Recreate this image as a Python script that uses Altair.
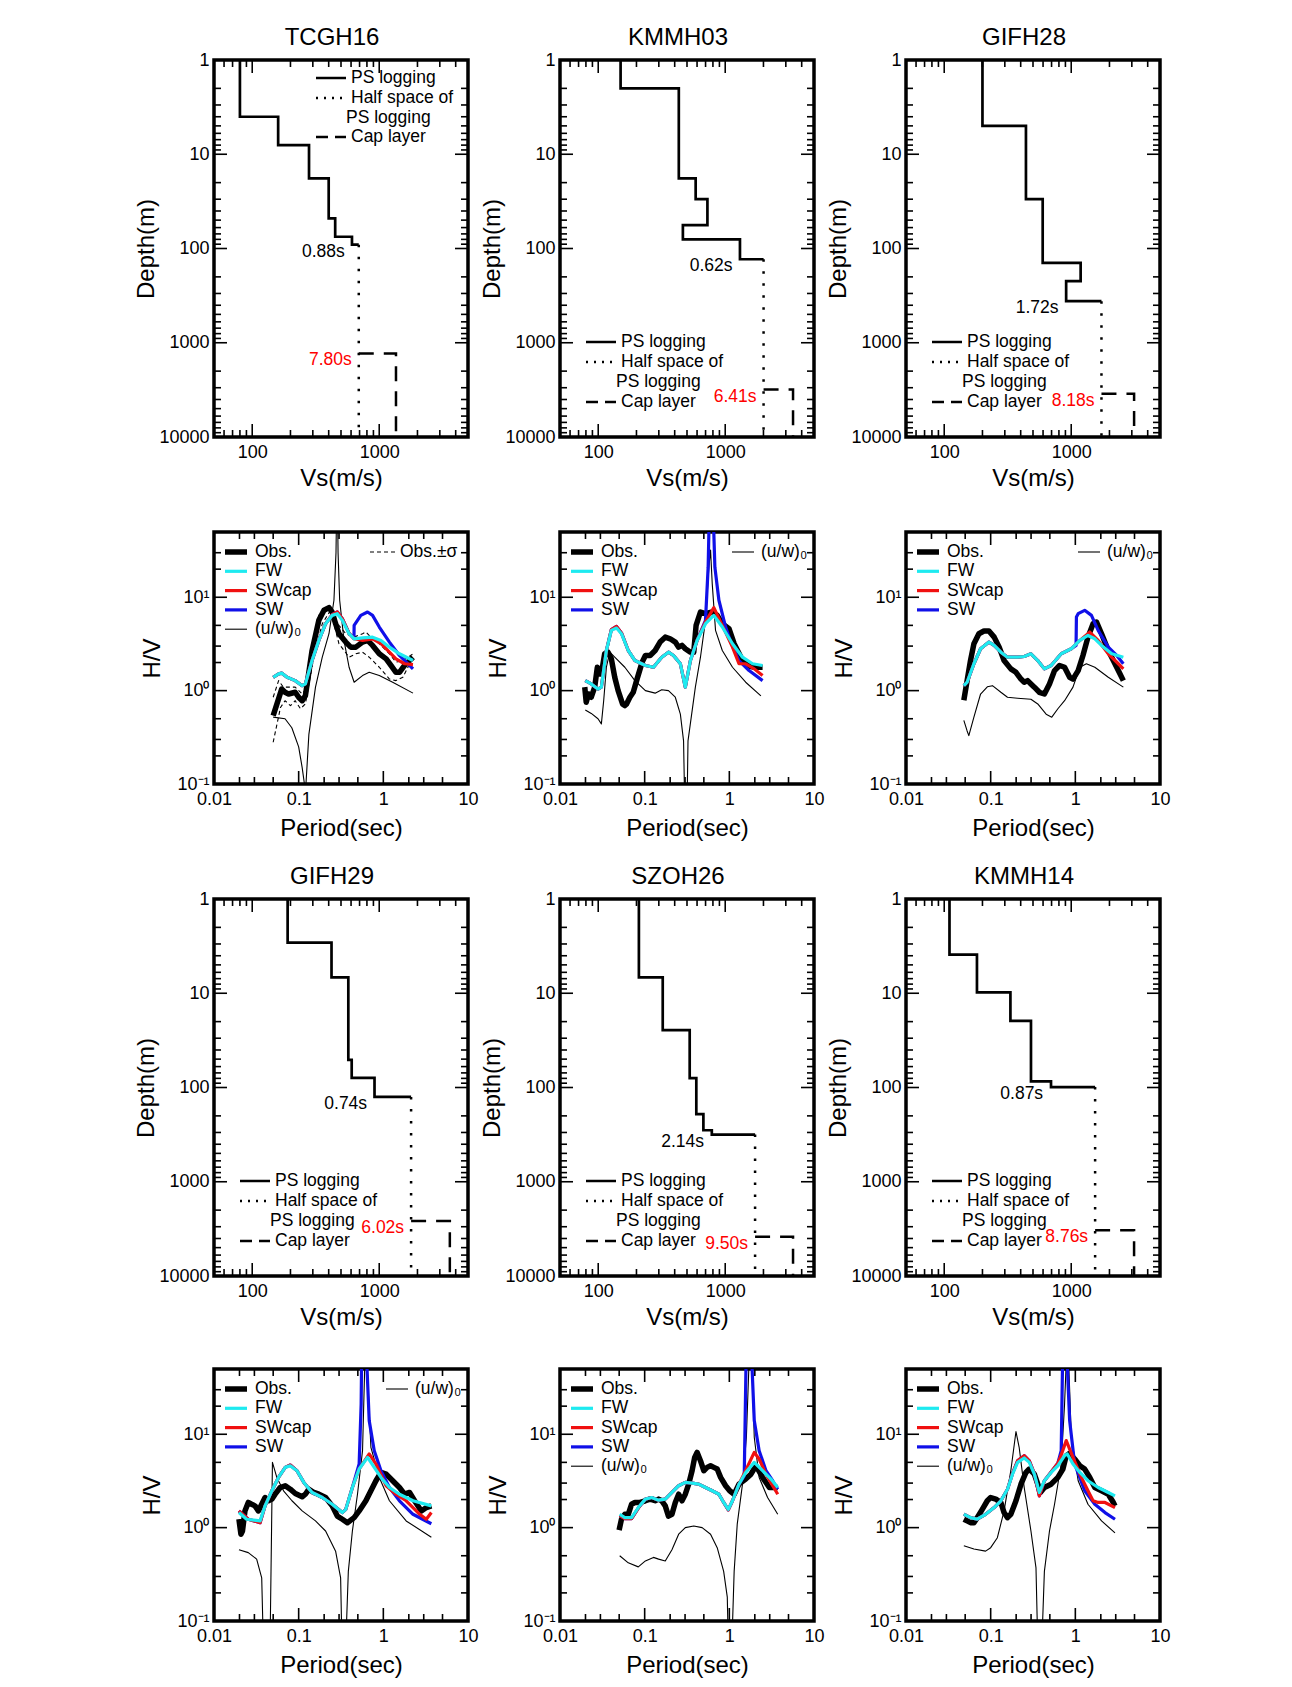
import altair as alt
import pandas as pd

FONT = "Liberation Sans"
CYAN = "#1EEAF0"
RED = "#F01010"
BLUE = "#1010E8"

# ---------------- Vs profiles (PS logging): layer Vs (m/s) and layer top depth (m)
TCGH16_VS = [80, 160, 280, 400, 450, 610]
TCGH16_TOP = [1, 4, 8, 18, 48, 75]
KMMH03_VS = [150, 431, 585, 724, 464, 1306]
KMMH03_TOP = [1, 2, 18, 30, 56.5, 80]
GIFH28_VS = [200, 440, 596, 1186, 912]
GIFH28_TOP = [1, 5, 30, 142, 222]
GIFH29_VS = [190, 421, 571, 607, 918]
GIFH29_TOP = [1, 2.9, 6.8, 50.8, 79]
SZOH26_VS = [209, 322, 525, 592, 673, 784]
SZOH26_TOP = [1, 6.8, 24.6, 79.6, 192, 284]
KMMH14_VS = [110, 181, 332, 482, 693]
KMMH14_TOP = [1, 3.9, 9.8, 19.6, 86.3]

# half space of PS logging [top depth, Vs] and cap layer [top depth, Vs]
TCGH16_HS = [91, 690]
TCGH16_CAP = [1300, 1355]
KMMH03_HS = [130, 2004]
KMMH03_CAP = [3141, 3419]
GIFH28_HS = [362, 1730]
GIFH28_CAP = [3467, 3126]
GIFH29_HS = [126, 1782]
GIFH29_CAP = [2606, 3597]
SZOH26_HS = [316, 1718]
SZOH26_CAP = [3822, 3419]
KMMH14_HS = [99, 1542]
KMMH14_CAP = [3273, 3125]

# periods of the profiles: [PS logging, with cap layer]
TCGH16_PER = ["0.88s", "7.80s"]
KMMH03_PER = ["0.62s", "6.41s"]
GIFH28_PER = ["1.72s", "8.18s"]
GIFH29_PER = ["0.74s", "6.02s"]
SZOH26_PER = ["2.14s", "9.50s"]
KMMH14_PER = ["0.87s", "8.76s"]

# ---------------- H/V spectra: (period s, H/V)
TCGH16_OBS = [(0.050,0.54),(0.063,1.04),(0.069,0.96),(0.076,0.92),(0.091,0.96),(0.100,0.85),(0.110,0.78),(0.120,0.88),(0.144,2.69),(0.173,5.66),(0.199,7.25),(0.228,7.74),(0.249,6.95),(0.273,5.21),(0.299,4.07),(0.360,3.31),(0.412,2.92),(0.473,2.92),(0.568,3.31),(0.651,3.45),(0.746,3.05),(0.896,2.48),(1.08,2.19),(1.23,1.86),(1.41,1.57),(1.55,1.57),(1.78,1.86),(2.04,2.10),(2.24,2.28)]
TCGH16_SIG_HI = [(0.050,0.85),(0.058,1.28),(0.066,1.09),(0.076,1.09),(0.091,1.09),(0.110,0.92),(0.126,1.09),(0.144,2.92),(0.173,6.40),(0.208,7.87),(0.249,6.67),(0.299,5.00),(0.360,4.07),(0.452,3.74),(0.568,4.07),(0.622,4.24),(0.713,3.74),(0.896,3.18),(1.18,2.48),(1.41,2.02),(1.70,2.10),(2.24,2.48)]
TCGH16_SIG_LO = [(0.050,0.28),(0.061,0.66),(0.069,0.78),(0.080,0.69),(0.091,0.78),(0.105,0.64),(0.120,0.72),(0.151,2.28),(0.190,5.21),(0.238,7.25),(0.299,3.18),(0.394,2.28),(0.473,2.48),(0.568,2.58),(0.681,2.28),(0.896,1.78),(1.18,1.33),(1.41,1.28),(1.70,1.39),(2.24,2.28)]
TCGH16_FW = [(0.050,1.39),(0.058,1.51),(0.063,1.54),(0.073,1.39),(0.091,1.28),(0.110,1.13),(0.120,1.18),(0.144,2.10),(0.173,3.45),(0.208,5.21),(0.249,6.40),(0.286,6.67),(0.328,5.66),(0.394,4.07),(0.452,3.59),(0.568,3.68),(0.746,3.74),(0.938,3.45),(1.18,2.92),(1.55,2.48),(2.24,2.10)]
TCGH16_SWCAP = [(0.050,1.39),(0.058,1.51),(0.063,1.54),(0.073,1.39),(0.091,1.28),(0.110,1.13),(0.120,1.18),(0.144,2.10),(0.173,3.45),(0.208,5.21),(0.249,6.50),(0.286,6.95),(0.328,5.90),(0.394,4.10),(0.452,3.59),(0.568,3.45),(0.746,3.59),(0.938,3.18),(1.18,2.58),(1.41,2.19),(1.78,1.94),(2.24,1.90)]
TCGH16_SW = [(0.050,1.39),(0.058,1.51),(0.063,1.54),(0.073,1.39),(0.091,1.28),(0.110,1.13),(0.120,1.18),(0.144,2.10),(0.173,3.45),(0.208,5.21),(0.249,6.50),(0.286,6.95),(0.328,5.90),(0.394,4.10),(0.450,3.62),(0.452,5.00),(0.542,6.40),(0.651,6.95),(0.746,6.40),(0.896,4.80),(1.18,3.31),(1.55,2.38),(2.24,1.71)]
TCGH16_UW = [(0.050,0.52),(0.069,0.50),(0.083,0.40),(0.100,0.25),(0.110,0.15),(0.117,0.10),(0.119,0.01),(0.122,0.10),(0.132,0.34),(0.158,1.09),(0.190,2.28),(0.228,4.07),(0.261,9.29),(0.276,30),(0.281,100),(0.287,100),(0.292,30),(0.305,9.29),(0.343,3.45),(0.394,1.78),(0.452,1.23),(0.568,1.45),(0.681,1.57),(0.896,1.45),(1.29,1.23),(2.24,0.94)]

KMMH03_OBS = [(0.0196,1.09),(0.0204,0.75),(0.0217,0.92),(0.0234,0.85),(0.0257,1.09),(0.0276,1.78),(0.0286,1.51),(0.0308,1.51),(0.0337,2.48),(0.0369,2.58),(0.0404,2.19),(0.0443,1.39),(0.0486,1.00),(0.0548,0.72),(0.0583,0.69),(0.0611,0.72),(0.0669,0.85),(0.0733,0.96),(0.0803,1.28),(0.0934,2.02),(0.102,2.38),(0.116,2.38),(0.133,2.69),(0.152,3.31),(0.175,3.74),(0.200,3.59),(0.230,3.31),(0.252,2.92),(0.276,3.05),(0.302,2.81),(0.347,2.58),(0.380,2.58),(0.405,5.00),(0.456,6.95),(0.523,6.67),(0.628,6.95),(0.719,6.40),(0.826,5.21),(0.991,4.60),(1.14,3.18),(1.37,2.28),(1.64,1.86),(1.97,1.78),(2.47,1.78)]
KMMH03_FW = [(0.0199,1.28),(0.0234,1.18),(0.0281,1.04),(0.0308,1.09),(0.0353,2.69),(0.0404,4.42),(0.0465,4.68),(0.0532,4.07),(0.064,2.69),(0.0767,2.10),(0.102,1.86),(0.127,1.78),(0.159,2.28),(0.191,2.58),(0.219,2.38),(0.264,1.94),(0.302,1.09),(0.347,2.10),(0.416,3.45),(0.523,5.21),(0.656,6.40),(0.826,4.80),(1.09,3.18),(1.43,2.28),(1.88,1.94),(2.47,1.86)]
KMMH03_SWCAP = [(0.0199,1.28),(0.0234,1.18),(0.0281,1.04),(0.0308,1.09),(0.0353,2.69),(0.0404,4.50),(0.0465,4.87),(0.0532,4.15),(0.064,2.69),(0.0767,2.10),(0.102,1.86),(0.127,1.78),(0.159,2.28),(0.191,2.58),(0.219,2.38),(0.264,1.94),(0.302,1.09),(0.347,2.10),(0.416,3.45),(0.523,5.43),(0.656,7.74),(0.826,5.00),(1.09,2.92),(1.30,1.94),(1.56,1.94),(1.97,1.71),(2.47,1.45)]
KMMH03_SW = [(0.0199,1.28),(0.0234,1.18),(0.0281,1.04),(0.0308,1.09),(0.0353,2.69),(0.0404,4.50),(0.0465,4.87),(0.0532,4.15),(0.064,2.69),(0.0767,2.10),(0.102,1.86),(0.127,1.78),(0.159,2.28),(0.191,2.58),(0.219,2.38),(0.264,1.94),(0.302,1.09),(0.347,2.10),(0.416,3.45),(0.523,5.66),(0.562,21),(0.583,100),(0.640,100),(0.675,21),(0.753,9.29),(0.904,4.80),(1.04,3.31),(1.30,2.10),(1.71,1.64),(2.47,1.28)]
KMMH03_UW = [(0.0199,0.62),(0.0234,0.57),(0.0281,0.50),(0.0308,0.44),(0.0328,0.78),(0.0353,1.78),(0.0387,2.58),(0.0443,2.28),(0.0583,1.78),(0.0767,1.28),(0.102,1.00),(0.133,0.94),(0.159,1.02),(0.191,1.00),(0.230,0.85),(0.264,0.56),(0.288,0.29),(0.308,0.01),(0.325,0.29),(0.397,1.09),(0.456,2.28),(0.523,5.66),(0.573,21),(0.600,32),(0.628,14),(0.687,4.42),(0.826,2.69),(1.09,1.78),(1.56,1.23),(2.36,0.88)]

GIFH28_OBS = [(0.0482,0.79),(0.0527,1.28),(0.0578,2.10),(0.0634,3.18),(0.0726,4.07),(0.0833,4.35),(0.0955,4.35),(0.110,3.74),(0.126,2.92),(0.144,2.10),(0.173,1.71),(0.199,1.57),(0.228,1.33),(0.249,1.23),(0.273,1.28),(0.299,1.18),(0.328,1.09),(0.376,0.96),(0.431,0.92),(0.495,1.18),(0.568,1.64),(0.651,1.86),(0.746,1.78),(0.857,1.39),(0.938,1.33),(1.08,1.64),(1.23,2.38),(1.41,3.74),(1.62,5.21),(1.78,5.43),(2.04,4.07),(2.45,2.69),(2.81,2.10),(3.22,1.64),(3.69,1.28)]
GIFH28_FW = [(0.0482,1.13),(0.0527,1.23),(0.0634,1.94),(0.076,2.81),(0.0955,3.31),(0.110,3.05),(0.132,2.58),(0.158,2.28),(0.208,2.28),(0.249,2.32),(0.299,2.48),(0.360,2.10),(0.431,1.71),(0.518,1.86),(0.681,2.48),(0.896,2.81),(1.13,3.45),(1.41,3.90),(1.70,3.59),(2.04,3.05),(2.69,2.48),(3.69,2.28)]
GIFH28_SWCAP = [(0.0482,1.13),(0.0527,1.23),(0.0634,1.94),(0.076,2.81),(0.0955,3.31),(0.110,3.05),(0.132,2.58),(0.158,2.28),(0.208,2.28),(0.249,2.32),(0.299,2.48),(0.360,2.10),(0.431,1.71),(0.518,1.86),(0.681,2.48),(0.896,2.81),(1.13,3.45),(1.41,4.07),(1.48,4.24),(1.86,3.45),(2.45,2.48),(3.22,1.94),(3.69,1.71)]
GIFH28_SW = [(0.0482,1.13),(0.0527,1.23),(0.0634,1.94),(0.076,2.81),(0.0955,3.31),(0.110,3.05),(0.132,2.58),(0.158,2.28),(0.208,2.28),(0.249,2.32),(0.299,2.48),(0.360,2.10),(0.431,1.71),(0.518,1.86),(0.681,2.48),(0.896,2.81),(1.02,3.05),(1.03,6.15),(1.08,6.67),(1.29,7.25),(1.55,6.40),(1.86,4.42),(2.45,2.92),(3.08,2.38),(3.69,1.94)]
GIFH28_UW = [(0.0482,0.48),(0.0527,0.37),(0.0552,0.33),(0.0634,0.52),(0.076,0.92),(0.0913,1.10),(0.105,1.13),(0.132,0.96),(0.158,0.85),(0.208,0.83),(0.299,0.81),(0.360,0.72),(0.452,0.56),(0.527,0.52),(0.622,0.64),(0.746,0.78),(0.938,1.09),(1.13,1.78),(1.35,1.94),(1.70,1.78),(2.45,1.39),(3.69,1.09)]

GIFH29_OBS = [(0.0197,1.23),(0.0208,0.85),(0.0217,0.92),(0.0232,1.51),(0.0254,1.86),(0.0278,1.78),(0.0305,1.71),(0.0334,1.51),(0.0366,1.78),(0.0401,2.10),(0.044,1.94),(0.0482,2.02),(0.0527,2.28),(0.0605,2.69),(0.0694,2.81),(0.0796,2.58),(0.0913,2.32),(0.110,2.14),(0.120,2.28),(0.132,2.58),(0.151,2.38),(0.173,2.28),(0.208,2.10),(0.249,1.71),(0.286,1.33),(0.328,1.23),(0.376,1.13),(0.452,1.28),(0.518,1.51),(0.622,1.94),(0.713,2.48),(0.818,3.18),(0.938,3.90),(1.08,3.74),(1.29,3.18),(1.55,2.69),(1.78,2.28),(2.04,2.38),(2.34,1.94),(2.81,1.51),(3.22,1.64),(3.69,1.71)]
GIFH29_FW = [(0.0197,1.45),(0.0243,1.23),(0.035,1.18),(0.0401,1.71),(0.0482,2.48),(0.0578,3.45),(0.0694,4.42),(0.0796,4.60),(0.0955,4.07),(0.115,3.05),(0.144,2.38),(0.190,2.10),(0.249,1.78),(0.328,1.45),(0.360,1.57),(0.431,2.69),(0.518,4.24),(0.651,5.66),(0.781,4.42),(0.938,3.45),(1.18,2.69),(1.55,2.28),(2.24,1.94),(3.69,1.71)]
GIFH29_SWCAP = [(0.0197,1.51),(0.0254,1.23),(0.035,1.13),(0.0401,1.71),(0.0482,2.48),(0.0578,3.45),(0.0694,4.42),(0.0796,4.68),(0.0955,4.07),(0.115,3.05),(0.144,2.38),(0.190,2.10),(0.249,1.78),(0.328,1.45),(0.360,1.57),(0.431,2.69),(0.518,4.24),(0.681,6.15),(0.818,4.80),(1.08,2.81),(1.41,2.28),(1.86,1.94),(2.69,1.39),(3.22,1.23),(3.69,1.45)]
GIFH29_SW = [(0.0197,1.51),(0.0254,1.23),(0.035,1.13),(0.0401,1.71),(0.0482,2.48),(0.0578,3.45),(0.0694,4.42),(0.0796,4.68),(0.0955,4.07),(0.115,3.05),(0.144,2.38),(0.190,2.10),(0.249,1.78),(0.328,1.45),(0.360,1.57),(0.431,2.69),(0.518,4.80),(0.547,21),(0.557,100),(0.622,100),(0.681,14),(0.781,6.67),(0.938,4.07),(1.18,2.69),(1.55,1.94),(2.24,1.39),(3.69,1.10)]
GIFH29_UW = [(0.0197,0.58),(0.0254,0.54),(0.0319,0.46),(0.0366,0.29),(0.0401,0.01),(0.0448,0.01),(0.049,5.0),(0.0552,3.45),(0.0663,2.48),(0.0833,1.94),(0.110,1.51),(0.158,1.18),(0.208,0.92),(0.273,0.56),(0.313,0.29),(0.337,0.01),(0.386,0.34),(0.431,0.92),(0.495,2.28),(0.568,6.67),(0.605,60),(0.640,60),(0.713,7.25),(0.896,3.45),(1.18,1.94),(1.86,1.18),(3.69,0.79)]

SZOH26_OBS = [(0.0499,0.94),(0.0532,1.23),(0.0583,1.39),(0.064,1.39),(0.070,1.78),(0.0767,1.86),(0.088,1.86),(0.102,1.94),(0.116,2.02),(0.133,1.94),(0.146,2.02),(0.159,1.94),(0.175,1.71),(0.191,1.33),(0.210,1.39),(0.230,1.86),(0.252,2.28),(0.276,1.94),(0.302,2.28),(0.331,2.92),(0.363,4.07),(0.390,5.66),(0.416,6.40),(0.456,5.21),(0.499,4.07),(0.547,4.42),(0.600,4.60),(0.656,4.42),(0.719,4.24),(0.789,3.45),(0.904,2.81),(1.01,2.48),(1.14,2.28),(1.30,2.92),(1.56,3.31),(1.80,3.74),(2.06,4.60),(2.47,3.45),(2.97,2.69),(3.73,2.69)]
SZOH26_FW = [(0.0507,1.39),(0.0583,1.28),(0.070,1.28),(0.0841,1.64),(0.102,2.02),(0.121,2.10),(0.146,1.97),(0.175,2.02),(0.210,2.38),(0.252,2.81),(0.302,3.05),(0.363,3.00),(0.435,2.92),(0.523,2.69),(0.628,2.48),(0.753,2.28),(0.857,1.86),(0.972,1.57),(1.09,1.94),(1.30,2.92),(1.56,3.90),(1.97,5.00),(2.47,4.07),(3.10,3.31),(3.73,2.69)]
SZOH26_SWCAP = [(0.0507,1.35),(0.0583,1.25),(0.070,1.25),(0.0841,1.62),(0.102,2.02),(0.121,2.10),(0.146,1.97),(0.175,2.02),(0.210,2.38),(0.252,2.81),(0.302,3.05),(0.363,3.00),(0.435,2.92),(0.523,2.69),(0.628,2.48),(0.753,2.28),(0.857,1.86),(0.972,1.55),(1.09,1.94),(1.30,2.92),(1.56,4.10),(1.97,6.40),(2.25,5.43),(2.71,3.74),(3.25,2.81),(3.73,2.28)]
SZOH26_SW = [(0.0507,1.35),(0.0583,1.25),(0.070,1.25),(0.0841,1.62),(0.102,2.02),(0.121,2.10),(0.146,1.97),(0.175,2.02),(0.210,2.38),(0.252,2.81),(0.302,3.05),(0.363,3.00),(0.435,2.92),(0.523,2.69),(0.628,2.48),(0.753,2.28),(0.857,1.86),(0.972,1.55),(1.09,1.94),(1.30,2.92),(1.50,3.59),(1.59,100),(1.80,100),(1.97,14),(2.25,6.67),(2.71,4.07),(3.25,3.18),(3.73,2.58)]
SZOH26_UW = [(0.0507,0.50),(0.064,0.42),(0.0841,0.38),(0.102,0.44),(0.127,0.48),(0.146,0.46),(0.175,0.44),(0.210,0.58),(0.252,0.85),(0.302,1.00),(0.380,1.04),(0.477,1.00),(0.600,0.85),(0.719,0.61),(0.857,0.34),(0.946,0.18),(1.01,0.01),(1.14,0.34),(1.24,1.09),(1.43,2.92),(1.59,9.29),(1.71,60),(1.85,60),(1.97,9.29),(2.25,3.45),(2.83,2.10),(3.73,1.39)]

KMMH14_OBS = [(0.0482,1.23),(0.0527,1.18),(0.0578,1.13),(0.0634,1.13),(0.0694,1.28),(0.0796,1.57),(0.0913,1.94),(0.100,2.10),(0.115,2.02),(0.132,1.86),(0.144,1.45),(0.158,1.28),(0.173,1.39),(0.199,1.94),(0.228,2.92),(0.261,3.90),(0.286,4.24),(0.328,3.74),(0.360,2.92),(0.386,2.38),(0.431,2.69),(0.518,2.92),(0.622,3.45),(0.713,4.24),(0.781,5.90),(0.857,6.25),(0.981,5.43),(1.13,4.60),(1.29,4.24),(1.48,3.45),(1.70,2.69),(2.04,2.48),(2.45,2.28),(2.81,1.86),(2.94,1.71)]
KMMH14_FW = [(0.0482,1.39),(0.0578,1.28),(0.0694,1.23),(0.0871,1.39),(0.110,1.64),(0.132,1.94),(0.158,2.58),(0.181,3.74),(0.208,5.00),(0.249,5.57),(0.286,5.00),(0.328,3.74),(0.376,2.38),(0.431,3.18),(0.518,3.90),(0.622,4.60),(0.746,5.90),(0.803,6.15),(0.938,4.80),(1.13,3.90),(1.41,3.18),(1.86,2.69),(2.45,2.38),(2.94,2.19)]
KMMH14_SWCAP = [(0.0482,1.39),(0.0578,1.28),(0.0694,1.23),(0.0871,1.39),(0.110,1.64),(0.132,1.94),(0.158,2.58),(0.181,3.80),(0.208,5.20),(0.249,5.90),(0.286,5.20),(0.328,3.80),(0.376,2.19),(0.431,3.18),(0.518,3.95),(0.622,4.90),(0.681,6.00),(0.781,8.55),(0.938,5.66),(1.18,3.45),(1.41,2.48),(1.62,1.94),(1.86,1.86),(2.24,1.86),(2.94,1.64)]
KMMH14_SW = [(0.0482,1.39),(0.0578,1.28),(0.0694,1.23),(0.0871,1.39),(0.110,1.64),(0.132,1.94),(0.158,2.58),(0.181,3.80),(0.208,5.20),(0.249,5.90),(0.286,5.20),(0.328,3.80),(0.376,2.19),(0.431,3.18),(0.518,3.95),(0.622,4.90),(0.681,6.67),(0.713,100),(0.781,100),(0.857,14),(0.981,4.80),(1.29,2.48),(1.70,1.78),(2.24,1.45),(2.94,1.23)]
KMMH14_UW = [(0.0482,0.64),(0.0634,0.59),(0.0871,0.56),(0.100,0.61),(0.120,0.78),(0.144,1.51),(0.173,4.07),(0.199,10.7),(0.217,7.25),(0.249,2.69),(0.299,0.92),(0.343,0.37),(0.376,0.01),(0.431,0.34),(0.495,0.92),(0.568,1.78),(0.681,4.80),(0.746,21),(0.781,60),(0.834,60),(0.896,9.29),(1.08,3.18),(1.41,1.78),(2.04,1.18),(2.94,0.88)]

UW = "(u/w)\u2080"
SIG = "Obs.\u00b1\u03c3"

# ---------------- layout / style
W = 254
HP = 377
HH = 252
LEG_FS = 17.5
STYLE = {
    "Obs.": dict(color="black", w=5.5),
    "FW": dict(color=CYAN, w=3.2),
    "SWcap": dict(color=RED, w=3.2),
    "SW": dict(color=BLUE, w=3.2),
    UW: dict(color="black", w=1.1),
    SIG: dict(color="black", w=1.1, dash=[4, 3]),
}
DRAW_ORDER = [UW, SIG, "Obs.", "SW", "SWcap", "FW"]


def tick_layers(maj, mnr, channel, enc_field, w, h, lmaj=13, lmin=7):
    out = []
    for vals, L in ((maj, lmaj), (mnr, lmin)):
        d = pd.DataFrame({"v": vals})
        m = alt.Chart(d).mark_rule(color="black", strokeWidth=1.6)
        e = enc_field("v")
        if channel == "x":
            out.append(m.encode(x=e, y=alt.value(h), y2=alt.value(h - L)))
            out.append(m.encode(x=e, y=alt.value(0), y2=alt.value(L)))
        else:
            out.append(m.encode(y=e, x=alt.value(0), x2=alt.value(L)))
            out.append(m.encode(y=e, x=alt.value(w), x2=alt.value(w - L)))
    return out


def legend_row(x0, x1, tx, y, label, color=None, width=None, dash=None):
    d = pd.DataFrame({"a": [0]})
    out = []
    if color is not None:
        kw = dict(color=color, strokeWidth=width)
        if dash:
            kw["strokeDash"] = dash
        out.append(alt.Chart(d).mark_rule(**kw).encode(
            x=alt.value(x0), x2=alt.value(x1), y=alt.value(y)))
    out.append(alt.Chart(d).mark_text(align="left", baseline="middle", fontSize=LEG_FS,
                                      font=FONT, color="black").encode(
        x=alt.value(tx), y=alt.value(y), text=alt.value(label)))
    return out


def series_df(pairs):
    return pd.DataFrame({"T": [p[0] for p in pairs], "HV": [p[1] for p in pairs],
                         "i": list(range(len(pairs)))})


HV_XS = alt.Scale(type="log", domain=[0.01, 10], nice=False)
HV_YS = alt.Scale(type="log", domain=[0.1, 50], nice=False)
HV_XAX = alt.Axis(values=[0.01, 0.1, 1, 10], format="~g", title="Period(sec)",
                  labelPadding=6, titlePadding=8, labelFlush=False, labelOverlap=False)
HV_YAX = alt.Axis(values=[0.1, 1, 10],
                  labelExpr="datum.value < 0.5 ? '10\u207b\u00b9' : (datum.value < 5 ? '10\u2070' : '10\u00b9')",
                  title="H/V", labelPadding=5, titlePadding=12, labelFlush=False, labelOverlap=False)


def hv_x(f):
    return alt.X(f + ":Q", scale=HV_XS, axis=HV_XAX)


def hv_y(f):
    return alt.Y(f + ":Q", scale=HV_YS, axis=HV_YAX)


def hv_panel(series, left_items, right_item):
    layers = []
    for name in DRAW_ORDER:
        if name not in series:
            continue
        st = STYLE[name]
        kw = dict(color=st["color"], strokeWidth=st["w"], clip=True, strokeJoin="round")
        if "dash" in st:
            kw["strokeDash"] = st["dash"]
        for pairs in series[name]:
            layers.append(alt.Chart(series_df(pairs)).mark_line(**kw).encode(
                x=hv_x("T"), y=hv_y("HV"), order="i:Q"))
    layers += tick_layers([0.1, 1], [0.02, 0.03, 0.05, 0.2, 0.3, 0.5, 2, 3, 5], "x", hv_x, W, HH)
    layers += tick_layers([1, 10], [0.2, 0.3, 0.5, 2, 3, 5, 20, 30], "y", hv_y, W, HH)
    for k, name in enumerate(left_items):
        st = STYLE[name]
        layers += legend_row(11, 33, 41, 20 + 19.3 * k, name, st["color"], st["w"], st.get("dash"))
    if right_item == SIG:
        st = STYLE[SIG]
        layers += legend_row(156, 181, 186, 20, SIG, st["color"], st["w"], st["dash"])
    elif right_item == UW:
        st = STYLE[UW]
        layers += legend_row(172, 194, 201, 20, UW, st["color"], st["w"])
    return alt.layer(*layers).properties(width=W, height=HH)


P_XS = alt.Scale(type="log", domain=[50, 5000], nice=False)
P_YS = alt.Scale(type="log", domain=[1, 10000], nice=False, reverse=True)
P_XAX = alt.Axis(values=[100, 1000], format="d", title="Vs(m/s)", labelPadding=6,
                 titlePadding=5, labelFlush=False, labelOverlap=False)
P_YAX = alt.Axis(values=[1, 10, 100, 1000, 10000], format="d", title="Depth(m)",
                 labelPadding=5, titlePadding=0, labelFlush=False, labelOverlap=False)
P_XMIN = [60, 70, 80, 90, 200, 300, 400, 500, 600, 700, 800, 900, 2000, 3000, 4000]
P_YMIN = [m * d for d in (1, 10, 100, 1000) for m in range(2, 10)]


def p_x(f):
    return alt.X(f + ":Q", scale=P_XS, axis=P_XAX)


def p_y(f):
    return alt.Y(f + ":Q", scale=P_YS, axis=P_YAX)


def prof_panel(site, vs, tops, hs, cap, per, label_dx, legend_pos):
    bounds = tops[1:] + [hs[0]]
    pts = []
    for v, t, b in zip(vs, tops, bounds):
        pts += [(v, t), (v, b)]
    pts.append((hs[1], hs[0]))
    ps = pd.DataFrame({"vs": [p[0] for p in pts], "z": [p[1] for p in pts],
                       "i": list(range(len(pts)))})
    half = pd.DataFrame({"vs": [hs[1], hs[1]], "z": [hs[0], 10000], "i": [0, 1]})
    capdf = pd.DataFrame({"vs": [hs[1], cap[1], cap[1]], "z": [cap[0], cap[0], 10000],
                          "i": [0, 1, 2]})
    layers = [
        alt.Chart(ps).mark_line(color="black", strokeWidth=2.7).encode(
            x=p_x("vs"), y=p_y("z"), order="i:Q"),
        alt.Chart(half).mark_line(color="black", strokeWidth=2.5, strokeDash=[2.5, 9.5]).encode(
            x=p_x("vs"), y=p_y("z"), order="i:Q"),
        alt.Chart(capdf).mark_line(color="black", strokeWidth=2.5, strokeDash=[15, 10]).encode(
            x=p_x("vs"), y=p_y("z"), order="i:Q"),
        alt.Chart(pd.DataFrame({"vs": [hs[1]], "z": [hs[0]], "t": [per[0]]})).mark_text(
            align="right", baseline="middle", dx=label_dx, dy=7, fontSize=LEG_FS, font=FONT,
            color="black").encode(x=p_x("vs"), y=p_y("z"), text="t:N"),
        alt.Chart(pd.DataFrame({"vs": [hs[1]], "z": [cap[0]], "t": [per[1]]})).mark_text(
            align="right", baseline="middle", dx=-7, dy=7, fontSize=LEG_FS, font=FONT,
            color="#FF0000").encode(x=p_x("vs"), y=p_y("z"), text="t:N"),
    ]
    layers += tick_layers([100, 1000], P_XMIN, "x", p_x, W, HP)
    layers += tick_layers([10, 100, 1000], P_YMIN, "y", p_y, W, HP)
    if legend_pos == "tr":
        x0, x1, tx, ys = 102, 132, 137, [18, 38, 58, 77]
    else:
        x0, x1, tx, ys = 26, 56, 61, [HP - 95, HP - 75, HP - 55, HP - 35]
    layers += legend_row(x0, x1, tx, ys[0], "PS logging", "black", 2.5)
    layers += legend_row(x0, x1, tx, ys[1], "Half space of", "black", 2.5, [2, 6])
    layers += legend_row(x0, x1, tx - 5, ys[2], "PS logging")
    layers += legend_row(x0, x1, tx, ys[3], "Cap layer", "black", 2.5, [12, 7])
    title = alt.TitleParams(site, dx=-9, offset=1, fontSize=24,
                            font=FONT, fontWeight="normal", color="black")
    return alt.layer(*layers).properties(width=W, height=HP, title=title)


LEFT5 = ["Obs.", "FW", "SWcap", "SW", UW]
LEFT4 = ["Obs.", "FW", "SWcap", "SW"]

p_tcgh16 = prof_panel("TCGH16", TCGH16_VS, TCGH16_TOP, TCGH16_HS, TCGH16_CAP, TCGH16_PER, -14, "tr")
p_kmmh03 = prof_panel("KMMH03", KMMH03_VS, KMMH03_TOP, KMMH03_HS, KMMH03_CAP, KMMH03_PER, -31, "bl")
p_gifh28 = prof_panel("GIFH28", GIFH28_VS, GIFH28_TOP, GIFH28_HS, GIFH28_CAP, GIFH28_PER, -43, "bl")
p_gifh29 = prof_panel("GIFH29", GIFH29_VS, GIFH29_TOP, GIFH29_HS, GIFH29_CAP, GIFH29_PER, -44, "bl")
p_szoh26 = prof_panel("SZOH26", SZOH26_VS, SZOH26_TOP, SZOH26_HS, SZOH26_CAP, SZOH26_PER, -51, "bl")
p_kmmh14 = prof_panel("KMMH14", KMMH14_VS, KMMH14_TOP, KMMH14_HS, KMMH14_CAP, KMMH14_PER, -52, "bl")

h_tcgh16 = hv_panel({UW: [TCGH16_UW], SIG: [TCGH16_SIG_HI, TCGH16_SIG_LO], "Obs.": [TCGH16_OBS],
                     "SW": [TCGH16_SW], "SWcap": [TCGH16_SWCAP], "FW": [TCGH16_FW]}, LEFT5, SIG)
h_kmmh03 = hv_panel({UW: [KMMH03_UW], "Obs.": [KMMH03_OBS], "SW": [KMMH03_SW],
                     "SWcap": [KMMH03_SWCAP], "FW": [KMMH03_FW]}, LEFT4, UW)
h_gifh28 = hv_panel({UW: [GIFH28_UW], "Obs.": [GIFH28_OBS], "SW": [GIFH28_SW],
                     "SWcap": [GIFH28_SWCAP], "FW": [GIFH28_FW]}, LEFT4, UW)
h_gifh29 = hv_panel({UW: [GIFH29_UW], "Obs.": [GIFH29_OBS], "SW": [GIFH29_SW],
                     "SWcap": [GIFH29_SWCAP], "FW": [GIFH29_FW]}, LEFT4, UW)
h_szoh26 = hv_panel({UW: [SZOH26_UW], "Obs.": [SZOH26_OBS], "SW": [SZOH26_SW],
                     "SWcap": [SZOH26_SWCAP], "FW": [SZOH26_FW]}, LEFT5, None)
h_kmmh14 = hv_panel({UW: [KMMH14_UW], "Obs.": [KMMH14_OBS], "SW": [KMMH14_SW],
                     "SWcap": [KMMH14_SWCAP], "FW": [KMMH14_FW]}, LEFT5, None)

top = alt.concat(p_tcgh16, p_kmmh03, p_gifh28, h_tcgh16, h_kmmh03, h_gifh28,
                 columns=3).properties(spacing={"row": 95, "column": 92},
                                       bounds="flush", align="each")
bottom = alt.concat(p_gifh29, p_szoh26, p_kmmh14, h_gifh29, h_szoh26, h_kmmh14,
                    columns=3).properties(spacing={"row": 93, "column": 92},
                                          bounds="flush", align="each")

chart = alt.vconcat(top, bottom, spacing=21).properties(
    padding={"left": 133, "top": 24, "right": 5, "bottom": 5}
).configure_view(
    stroke="black", strokeWidth=3.5
).configure_axis(
    labelFont=FONT, titleFont=FONT, labelFontSize=18, titleFontSize=24,
    labelColor="black", titleColor="black", titleFontWeight="normal",
    ticks=False, domain=False, grid=False
).configure_title(font=FONT, fontSize=24, fontWeight="normal", color="black")

chart.save("out.html", embed_options={"renderer": "svg", "actions": False})
